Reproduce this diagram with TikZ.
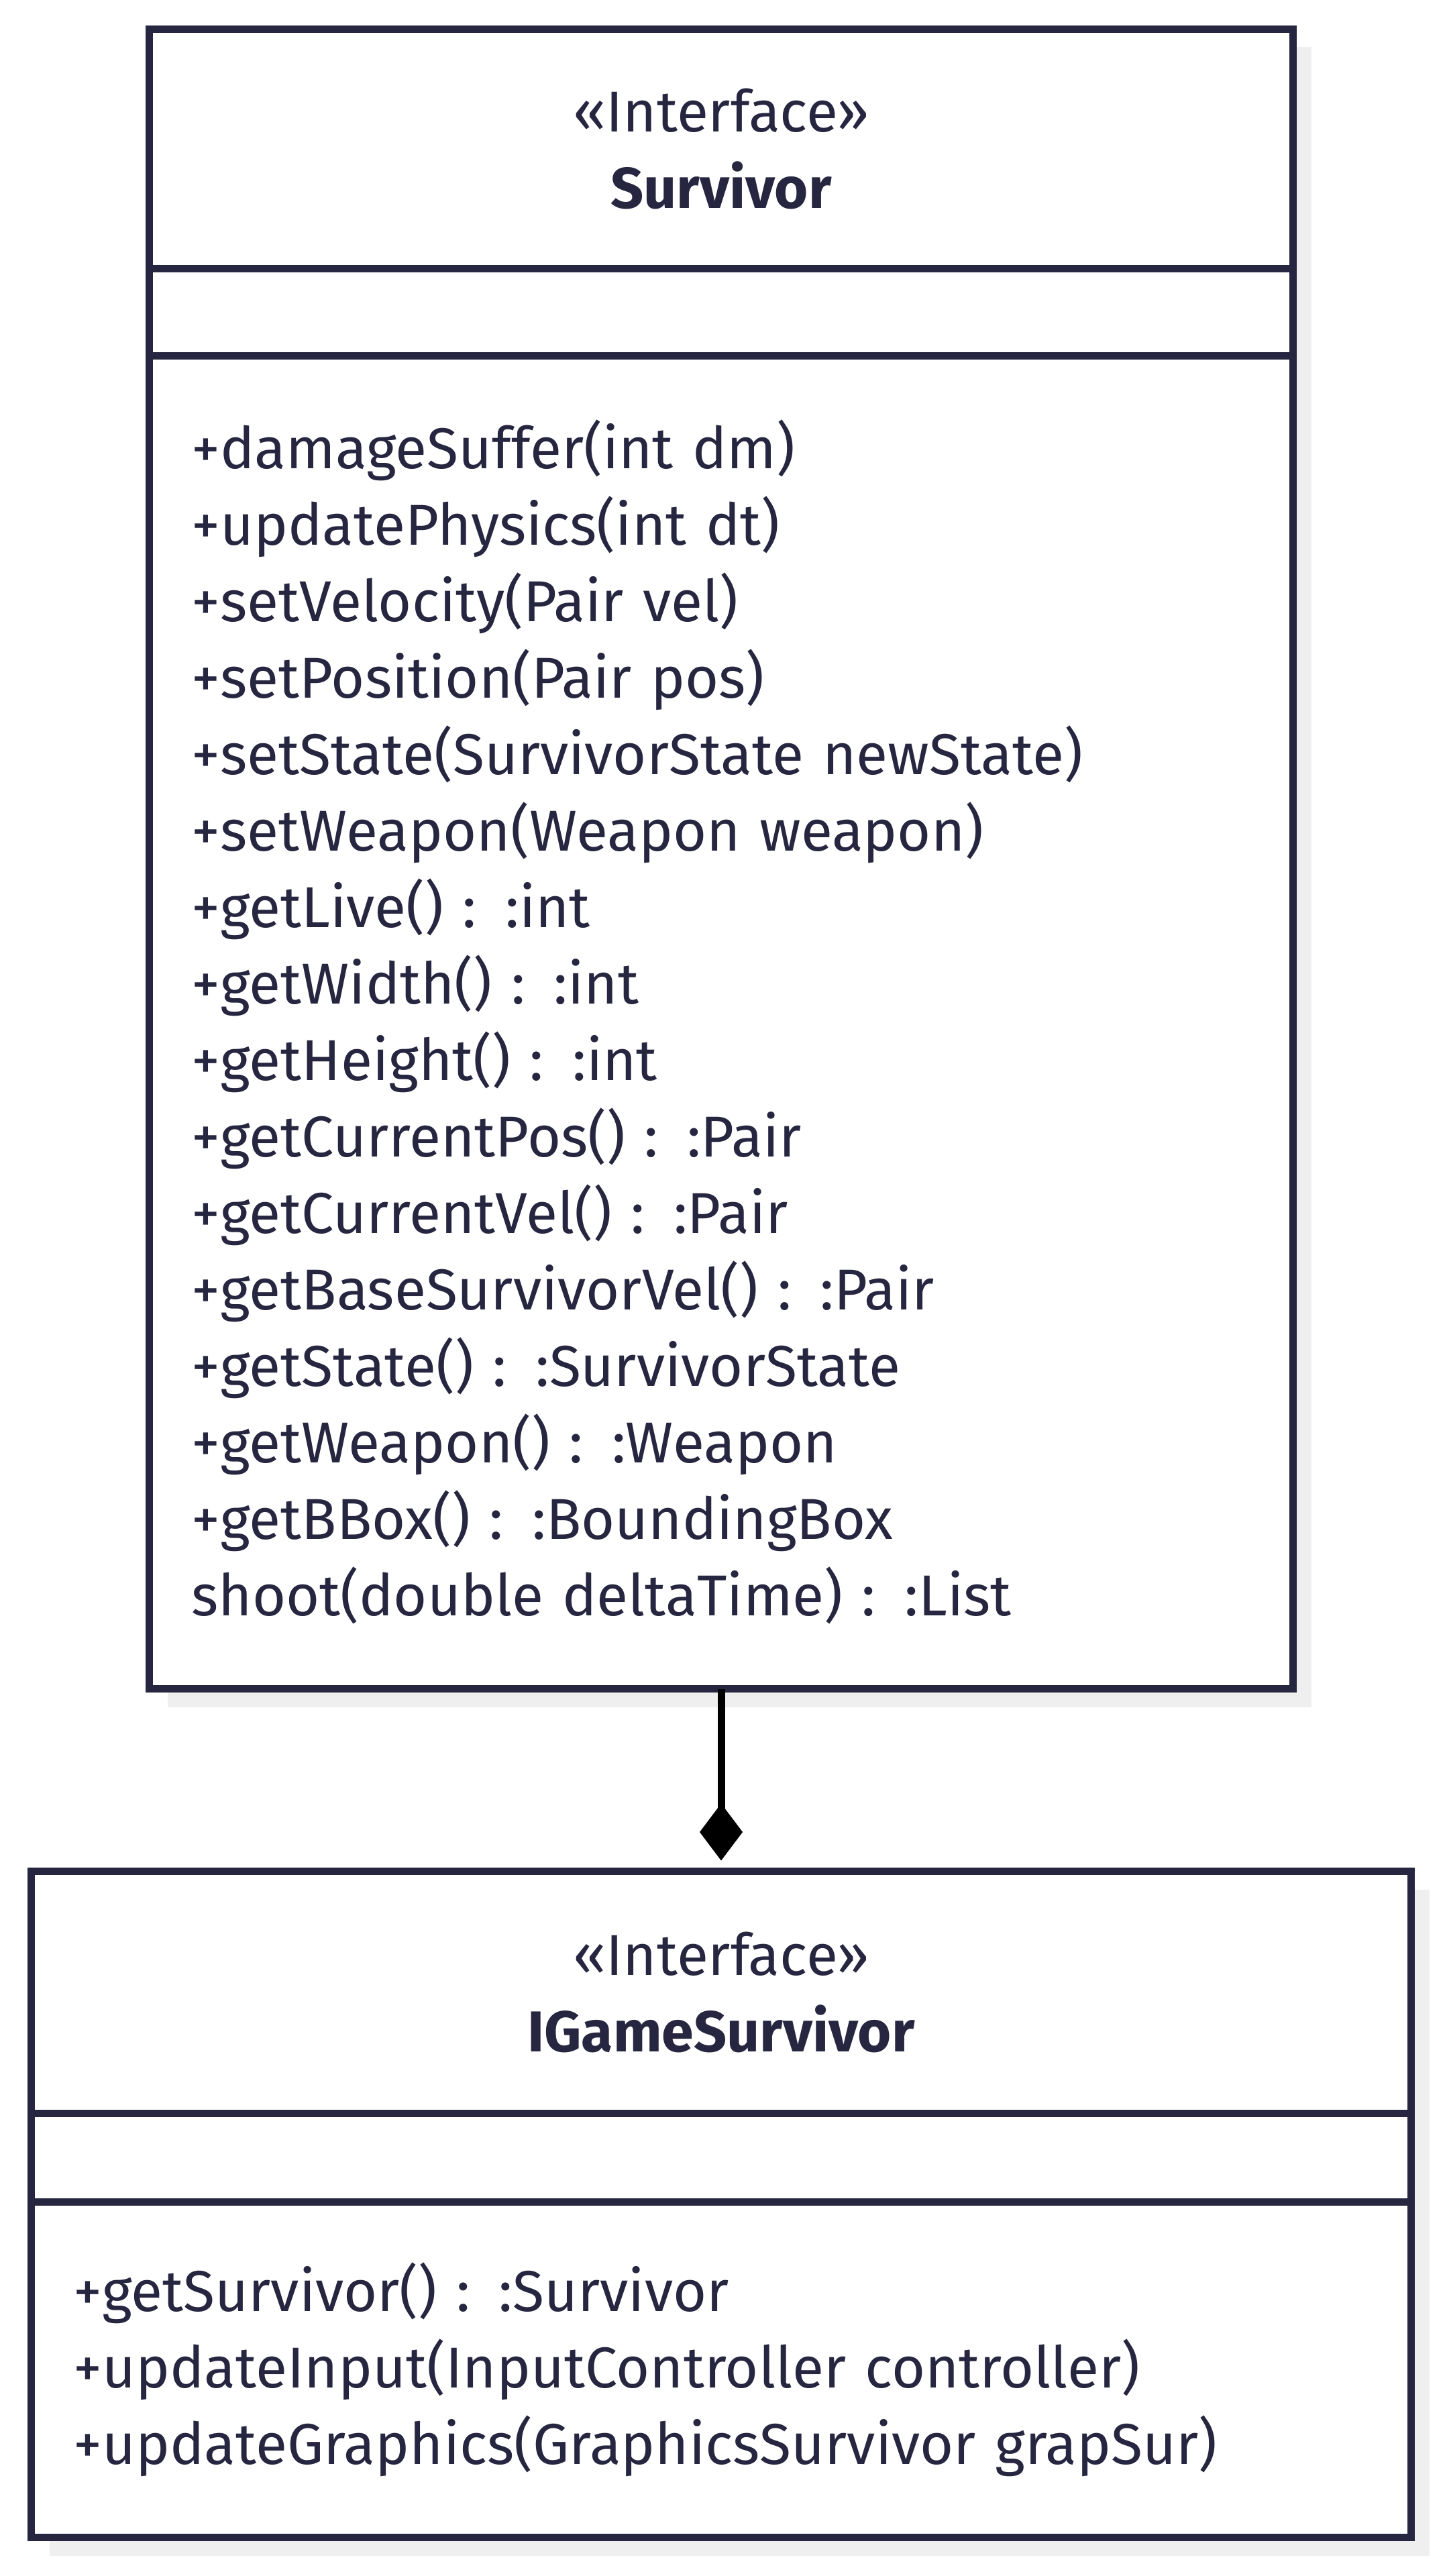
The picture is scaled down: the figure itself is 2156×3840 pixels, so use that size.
\documentclass[tikz,border=0pt]{standalone}
\usepackage{fontspec}
\setmainfont{Fira Sans}
\usetikzlibrary{positioning,arrows.meta,shadows}
\definecolor{umlline}{HTML}{272640}
\definecolor{umlshade}{HTML}{EFEFEF}
\tikzset{
  classpart/.style={draw=umlline,fill=white,line width=11pt,outer sep=0pt,inner sep=0pt,text=umlline,
    font={\fontsize{86}{114}\selectfont},
    drop shadow={shadow xshift=27pt,shadow yshift=-27pt,fill=umlshade,opacity=1}},
  classhead/.style={classpart,align=center},
  classmeth/.style={classpart,align=left,inner xsep=63pt},
  compose/.style={line width=11pt,-{Diamond[length=85pt,width=64pt,line width=0pt]},shorten >=16pt}
}
\begin{document}
\begin{tikzpicture}[x=1pt,y=-1pt]
\useasboundingbox (0,0) rectangle (2156,3840);
\node[classhead,minimum width=1705pt,minimum height=356.5pt] (sHead) at (1075,221.75) {«Interface»\\\textbf{Survivor}};
\node[classpart,minimum width=1705pt,minimum height=130pt,below=0pt of sHead] (sAttr) {};
\node[classmeth,minimum width=1705pt,minimum height=1987.5pt,text width=1579pt,below=0pt of sAttr] (sMeth) {+damageSuffer(int dm)\\+updatePhysics(int dt)\\+setVelocity(Pair vel)\\+setPosition(Pair pos)\\+setState(SurvivorState newState)\\+setWeapon(Weapon weapon)\\+getLive() : :int\\+getWidth() : :int\\+getHeight() : :int\\+getCurrentPos() : :Pair\\+getCurrentVel() : :Pair\\+getBaseSurvivorVel() : :Pair\\+getState() : :SurvivorState\\+getWeapon() : :Weapon\\+getBBox() : :BoundingBox\\shoot(double deltaTime) : :List};
\node[classhead,minimum width=2057pt,minimum height=360.5pt] (gHead) at (1075,2969.75) {«Interface»\\\textbf{IGameSurvivor}};
\node[classpart,minimum width=2057pt,minimum height=132pt,below=0pt of gHead] (gAttr) {};
\node[classmeth,minimum width=2057pt,minimum height=500.5pt,text width=1931pt,below=0pt of gAttr] (gMeth) {+getSurvivor() : :Survivor\\+updateInput(InputController controller)\\+updateGraphics(GraphicsSurvivor grapSur)};
\draw[compose] (sMeth.south) -- (gHead.north);
\end{tikzpicture}
\end{document}
